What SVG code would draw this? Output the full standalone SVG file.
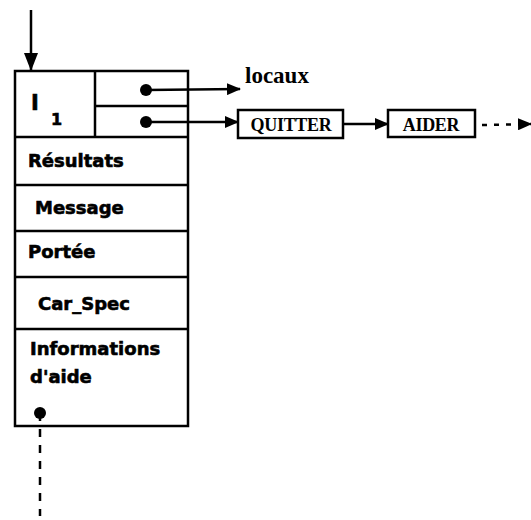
<svg xmlns="http://www.w3.org/2000/svg" width="531" height="520" viewBox="0 0 531 520">
<defs>
<marker id="ah" markerWidth="14" markerHeight="12" refX="13" refY="6" orient="auto" markerUnits="userSpaceOnUse"><path d="M0,0 L14,6 L0,12 Z" fill="#000"/></marker>
<marker id="ahd" markerWidth="18" markerHeight="14" refX="17" refY="7" orient="auto" markerUnits="userSpaceOnUse"><path d="M0,0 L18,7 L0,14 Z" fill="#000"/></marker>
</defs>
<style>
.box{fill:#fff;stroke:#000;stroke-width:2.5}
.ln{stroke:#000;stroke-width:2.5;fill:none}
.sans{font-family:"DejaVu Sans",sans-serif;font-weight:bold;font-size:18px;fill:#000;stroke:#000;stroke-width:0.6}
.serif{font-family:"Liberation Serif",serif;font-weight:bold;fill:#000}
</style>
<rect width="531" height="520" fill="#fff"/>
<g id="record">
<rect class="box" x="15" y="71" width="173" height="355"/>
<line class="ln" x1="95" y1="71" x2="95" y2="137"/>
<line class="ln" x1="95" y1="106" x2="188" y2="106"/>
<line class="ln" x1="15" y1="137" x2="188" y2="137"/>
<line class="ln" x1="15" y1="185" x2="188" y2="185"/>
<line class="ln" x1="15" y1="231" x2="188" y2="231"/>
<line class="ln" x1="15" y1="277" x2="188" y2="277"/>
<line class="ln" x1="15" y1="329" x2="188" y2="329"/>
<text class="sans" x="31" y="110" style="font-size:21px">I</text>
<text class="sans" x="51" y="125" style="font-size:16px">1</text>
<text class="sans" x="28" y="167">Résultats</text>
<text class="sans" x="35" y="214">Message</text>
<text class="sans" x="28" y="258">Portée</text>
<text class="sans" x="38" y="310">Car_Spec</text>
<text class="sans" x="30" y="355">Informations</text>
<text class="sans" x="30" y="383">d'aide</text>
</g>
<g id="locaux">
<text class="serif" x="245" y="83" style="font-size:23px">locaux</text>
</g>
<g id="quitter">
<rect class="box" x="238" y="110" width="105" height="28"/>
<text class="serif" x="291" y="131" text-anchor="middle" style="font-size:18px;letter-spacing:-0.3px">QUITTER</text>
</g>
<g id="aider">
<rect class="box" x="388" y="110" width="87" height="27"/>
<text class="serif" x="431" y="131" text-anchor="middle" style="font-size:18px;letter-spacing:-0.3px">AIDER</text>
</g>
<g id="connectors">
<line class="ln" x1="31" y1="10" x2="31" y2="70" marker-end="url(#ahd)"/>
<circle cx="146" cy="90" r="6"/>
<line class="ln" x1="146" y1="90" x2="240" y2="89" marker-end="url(#ah)"/>
<circle cx="146" cy="122" r="6"/>
<line class="ln" x1="146" y1="122" x2="238" y2="122" marker-end="url(#ah)"/>
<line class="ln" x1="343" y1="124" x2="388" y2="124" marker-end="url(#ah)"/>
<line class="ln" x1="482" y1="125" x2="531" y2="124" stroke-dasharray="5,7" marker-end="url(#ah)"/>
<circle cx="40" cy="413" r="6"/>
<line class="ln" x1="40" y1="413" x2="40" y2="516" stroke-width="3" stroke-dasharray="8,8"/>
</g>
</svg>
